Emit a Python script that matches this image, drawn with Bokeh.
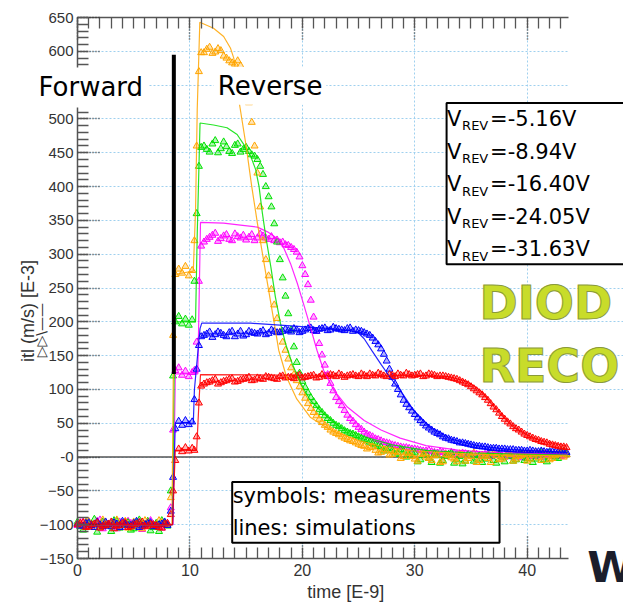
from math import pi
from bokeh.plotting import figure
from bokeh.models import Range1d, LinearAxis, SingleIntervalTicker, Label, BoxAnnotation, Grid
from bokeh.embed import file_html
from bokeh.resources import INLINE

# ---------------- data ----------------
t_meas = [0.0, 0.5, 1.0, 1.5, 2.0, 2.5, 3.0, 3.5, 4.0, 4.5, 5.0, 5.5, 6.0, 6.5, 7.0, 7.5, 8.0,
          8.3, 8.5, 8.7, 9.0, 9.3, 9.6, 9.9, 10.2, 10.4, 10.6, 10.8, 11.0,
          11.5, 12.0, 12.5, 13.0, 13.5, 14.0, 14.5, 15.0, 15.5, 16.0, 16.5, 17.0, 17.5, 18.0, 18.5,
          19.0, 19.5, 20.0, 20.5, 21.0, 21.5, 22.0, 22.5, 23.0, 23.5, 24.0, 24.5, 25.0, 25.5, 26.0,
          26.5, 27.0, 27.5, 28.0, 28.5, 29.0, 29.5, 30.0, 30.5, 31.0, 31.5, 32.0, 32.5, 33.0, 33.5,
          34.0, 34.5, 35.0, 35.5, 36.0, 36.5, 37.0, 37.5, 38.0, 38.5, 39.0, 39.5, 40.0, 40.5, 41.0,
          41.5, 42.0, 42.5, 43.0, 43.5]

meas_orange = [-98, -103, -95, -100, -104, -97, -101, -93, -99, -105, -96, -102, -94, -100, -103, -97, -100,
               -60, 180, 270, 278, 272, 282, 268, 276, 320, 460, 570, 598,
               603, 597, 604, 593, 586, 581, 579,
               540, 495, 420, 320, 268, 225, 185, 158, 132, 113,
               95, 79, 66, 56, 47, 40, 35, 30, 26, 23,
               19, 16, 14, 10, 7, 9, 4, 7, 1, 5,
               -3, 4, 0, -5, 3, -7, 2, -3, 5, -6,
               1, -8, 3, -2, 5, -4, 0, 4, -3, 2,
               -6, 3, -1, 5, -4, 2, 6, 3]
meas_green = [-96, -108, -99, -92, -104, -100, -110, -95, -101, -97, -106, -93, -100, -109, -98, -94, -102,
              -50, 120, 200, 208, 197, 204, 195, 203, 260, 360, 430, 458,
              455, 463, 450, 466, 452, 461, 451,
              458, 447, 440, 418, 385, 345, 292, 238, 188, 140,
              112, 95, 82, 70, 61, 54, 47, 42, 37, 34,
              30, 26, 22, 18, 15, 12, 10, 6, 9, 3,
              6, -4, 5, -8, 2, -5, 4, -9, 1, -6,
              3, -3, -8, 2, -5, 4, -7, 1, -4, 5,
              -2, -8, 3, -4, 6, 0, 8, 4]
meas_magenta = [-101, -96, -104, -99, -93, -102, -98, -106, -100, -95, -103, -97, -101, -94, -99, -105, -98,
                -75, 40, 128, 132, 121, 127, 119, 125, 128, 170, 260, 312,
                322, 328, 319, 327, 322, 330, 324,
                321, 329, 324, 327, 322, 320, 317, 314, 310, 303,
                283, 255, 207, 168, 136, 109, 88, 76, 62, 53,
                44, 37, 32, 27, 24, 21, 18, 16, 14, 13,
                12, 10, 9, 8, 6, 7, 4, 6, 3, 5,
                2, 4, 1, 5, 2, 3, 0, 4, 2, -1,
                3, 1, 4, 0, 2, 3, 1, 4]
meas_blue = [-99, -102, -97, -104, -100, -96, -103, -99, -95, -101, -98, -104, -100, -97, -102, -99, -101,
             -80, -30, 42, 53, 47, 54, 48, 52, 85, 130, 165, 178,
             182, 177, 185, 180, 184, 178, 186,
             181, 184, 182, 187, 183, 186, 184, 189, 185, 188,
             186, 190, 187, 189, 191, 188, 190, 188, 190, 186,
             187, 184, 180, 171, 160, 142, 118, 100, 84, 73,
             63, 54, 46, 40, 35, 30, 27, 24, 21, 20,
             18, 16, 15, 14, 13, 12, 12, 11, 10, 10,
             9, 9, 8, 8, 8, 7, 7, 7]
meas_red = [-100, -97, -103, -99, -105, -101, -96, -102, -98, -104, -100, -97, -103, -99, -101, -105, -98,
            -85, -50, -5, 12, 8, 14, 9, 13, 10, 30, 80, 105,
            110, 113, 108, 112, 115, 111, 114,
            116, 113, 117, 115, 118, 116, 119, 117, 118, 120,
            117, 119, 121, 118, 120, 122, 119, 121, 120, 122,
            119, 121, 123, 120, 122, 119, 121, 123, 120, 122,
            121, 123, 120, 122, 119, 120, 118, 116, 113, 109,
            104, 98, 92, 84, 74, 65, 56, 49, 42, 37,
            32, 28, 25, 22, 19, 17, 15, 14]

# second (interleaved) set of measured samples
t_meas_mid = [0.25, 0.75, 1.25, 1.75, 2.25, 2.75, 3.25, 3.75, 4.25, 4.75, 5.25, 5.75, 6.25, 6.75, 7.25, 7.75,
              11.25, 11.75, 12.25, 12.75, 13.25, 13.75, 14.25,
              14.75, 15.25, 15.75, 16.25, 16.75, 17.25, 17.75, 18.25, 18.75, 19.25,
              19.75, 20.25, 20.75, 21.25, 21.75, 22.25, 22.75, 23.25, 23.75, 24.25,
              24.75, 25.25, 25.75, 26.25, 26.75, 27.25, 27.75, 28.25, 28.75, 29.25,
              29.75, 30.25, 30.75, 31.25, 31.75, 32.25, 32.75, 33.25, 33.75, 34.25,
              34.75, 35.25, 35.75, 36.25, 36.75, 37.25, 37.75, 38.25, 38.75, 39.25,
              39.75, 40.25, 40.75, 41.25, 41.75, 42.25, 42.75, 43.25]
mid_orange = [-101, -96, -104, -99, -93, -102, -98, -100, -95, -103, -99, -106, -97, -101, -94, -99,
              598, 606, 599, 601, 590, 583, 586,
              572, 524, 460, 370, 292, 248, 205, 170, 145, 122,
              104, 87, 72, 61, 51, 44, 37, 33, 28, 24,
              21, 17, 12, 15, 6, 11, 3, 8, -2, 6,
              1, -6, 5, -2, 2, -8, 4, -1, -7, 3,
              -2, 6, -5, 1, -8, 2, -3, 6, -6, 1,
              4, -3, 7, -5, 2, -2, 4, 0]
mid_green = [-103, -97, -100, -111, -96, -102, -94, -105, -99, -108, -97, -101, -95, -104, -110, -98,
             460, 451, 468, 456, 459, 449, 463,
             455, 452, 445, 430, 400, 370, 318, 265, 212, 163,
             124, 103, 88, 76, 66, 57, 50, 45, 39, 35,
             32, 28, 24, 20, 16, 9, 13, 4, 11, 0,
             7, -7, 3, -2, 5, -9, 1, 6, -4, -10,
             4, -6, 2, -3, 7, -9, 0, 5, -6, 2,
             -5, 4, -3, 7, -7, 3, -2, 9]
mid_magenta = [-97, -103, -100, -95, -106, -99, -102, -96, -104, -98, -101, -107, -96, -100, -103, -97,
               318, 325, 331, 323, 329, 320, 326,
               328, 325, 320, 330, 324, 326, 321, 318, 313, 307,
               296, 270, 232, 186, 151, 122, 98, 82, 69, 57,
               48, 41, 34, 30, 26, 22, 20, 17, 15, 14,
               12, 11, 9, 10, 7, 8, 5, 7, 4, 6,
               3, 5, 2, 4, 1, 5, 2, 3, 0, 4,
               2, 5, 1, 3, 4, 1, 3, 2]
mid_blue = [-102, -98, -101, -96, -103, -100, -97, -104, -99, -101, -95, -102, -98, -103, -100, -96,
            180, 185, 181, 183, 178, 186, 182,
            179, 186, 183, 185, 181, 188, 184, 186, 187, 190,
            184, 188, 191, 186, 190, 187, 192, 189, 187, 191,
            188, 186, 182, 176, 166, 152, 130, 108, 92, 78,
            68, 58, 50, 43, 37, 33, 28, 25, 23, 21,
            19, 17, 16, 15, 13, 13, 12, 11, 11, 10,
            9, 10, 8, 9, 7, 8, 7, 6]
mid_red = [-98, -104, -100, -97, -102, -99, -106, -101, -97, -103, -99, -96, -102, -100, -104, -99,
           108, 111, 115, 110, 113, 116, 112,
           115, 118, 114, 116, 119, 117, 115, 120, 118, 116,
           121, 118, 120, 117, 122, 119, 121, 123, 118, 121,
           120, 123, 119, 121, 124, 120, 122, 119, 121, 124,
           120, 122, 119, 123, 121, 120, 119, 117, 115, 111,
           107, 101, 95, 88, 79, 70, 60, 52, 45, 40,
           34, 30, 26, 23, 21, 18, 16, 15]

sim_t_orange = [0, 8.4, 8.6, 10.3, 10.5, 10.65, 10.88, 12.1, 13.0, 13.6, 13.9, 14.35, 15.0, 15.5, 16.0,
                16.5, 17.0, 17.5, 17.9, 18.6, 19.5, 20.7, 22.5, 24.9, 27.0, 30.0, 34.0, 38.0, 43.6]
sim_orange = [-100, -100, 270, 275, 365, 514, 643, 634, 622, 605, 590, 528, 460, 400, 346,
              296, 247, 198, 158, 118, 86, 59, 40, 25, 16, 9, 5, 3, 2]
sim_t_green = [0, 8.45, 8.65, 10.5, 10.65, 10.9, 12.1, 13.3, 14.2, 14.8, 15.4, 15.85, 16.15, 16.45, 16.75,
               17.2, 17.6, 18.05, 18.5, 19.1, 19.85, 20.7, 21.9, 23.4, 25.5, 28.0, 31.0, 35.0, 43.6]
sim_green = [-100, -100, 200, 200, 330, 494, 491, 487, 477, 462, 445, 425, 400, 360, 326,
             281, 237, 198, 168, 138, 109, 84, 64, 44, 30, 18, 10, 6, 3]
sim_t_magenta = [0, 8.5, 8.7, 10.7, 10.94, 13.0, 14.5, 16.0, 16.9, 17.8, 18.35, 18.95, 19.55, 20.1, 20.7,
                 21.3, 21.9, 22.8, 24.0, 25.5, 27.0, 28.7, 31.0, 34.0, 38.0, 43.6]
sim_magenta = [-100, -100, 123, 123, 347, 346, 343, 340, 333, 323, 309, 286, 257, 227, 193,
               158, 128, 99, 74, 54, 40, 28, 17, 10, 6, 4]
sim_t_blue = [0, 8.45, 8.7, 10.3, 10.4, 10.9, 11.05, 15.4, 19.0, 22.5, 24.9, 25.5, 26.2, 27.0, 27.8,
              28.7, 29.9, 31.4, 33.2, 35.6, 38.5, 43.6]
sim_blue = [-100, -100, 50, 50, 100, 190, 198, 198, 194, 190, 185, 175, 157, 137, 118,
            99, 69, 44, 27, 17, 11, 7]
sim_t_red = [0, 8.45, 8.7, 10.6, 10.8, 10.94, 20.0, 30.0, 33.0, 34.4, 35.3, 36.0, 36.7, 37.6, 38.8,
             40.3, 41.8, 43.6]
sim_red = [-100, -100, 10, 10, 80, 122, 121, 121, 119, 113, 105, 96, 81, 64, 44,
           30, 22, 16]

vrev_values = ["-5.16", "-8.94", "-16.40", "-24.05", "-31.63"]
x_ticks_major = 10
y_ticks_major = 50

# divider bar between forward / reverse phases
divider_t = [8.57]
divider_lo = [123]
divider_hi = [595]

# ---------------- figure ----------------
# the frame covers the whole canvas; axes are pinned with fixed_location
X_END = 43.67          # end of the plotted time axis
X_VIEW = 48.566
Y_MIN, Y_MAX = -150, 650
p = figure(width=623, height=602, output_backend="svg", toolbar_location=None,
           x_range=Range1d(-6.849, X_VIEW), y_range=Range1d(-215.06, 675.14),
           x_axis_type=None, y_axis_type=None,
           min_border_left=0, min_border_right=0, min_border_top=0, min_border_bottom=0)
p.outline_line_color = None
p.background_fill_color = "white"
p.border_fill_color = "white"

xt = SingleIntervalTicker(interval=x_ticks_major, num_minor_ticks=10)
yt = SingleIntervalTicker(interval=y_ticks_major, num_minor_ticks=5)

GRID_C = "#9fd0ef"
def grid(dim, bounds, cross):
    p.add_layout(Grid(dimension=dim, ticker=(xt if dim == 0 else yt), bounds=bounds, cross_bounds=cross,
                      grid_line_color=GRID_C, grid_line_dash="2 2", grid_line_width=1))
grid(0, (0, X_END), (Y_MIN, Y_MAX))
grid(1, (Y_MIN, 50), (0, X_END))
grid(1, (100, 250), (0, X_VIEW))
grid(1, (300, Y_MAX), (0, X_END))

def style_axis(ax):
    ax.axis_line_color = "#555555"
    ax.axis_line_width = 1.5
    ax.major_tick_in = 22
    ax.major_tick_out = 0
    ax.major_tick_line_color = "#333333"
    ax.major_tick_line_dash = "1 2"
    ax.major_tick_line_width = 1.5
    ax.minor_tick_in = 11
    ax.minor_tick_out = 0
    ax.minor_tick_line_color = "#555555"
    ax.minor_tick_line_width = 1.3
    ax.major_label_text_color = "#333333"
    ax.major_label_text_font = "Liberation Sans"

bottom = LinearAxis(ticker=xt, bounds=(0, X_END), fixed_location=Y_MIN)
style_axis(bottom)
bottom.major_label_text_font_size = "16px"
bottom.major_label_standoff = 5
p.add_layout(bottom, "below")

top = LinearAxis(ticker=xt, bounds=(0, X_END), fixed_location=Y_MAX)
style_axis(top)
top.major_label_text_font_size = "10px"
top.major_label_standoff = 0
top.major_label_overrides = {0: "", 10: "", 20: "", 30: "", 40: ""}
p.add_layout(top, "above")

left = LinearAxis(ticker=yt, bounds=(Y_MIN, Y_MAX), fixed_location=0)
style_axis(left)
left.major_label_text_font_size = "15px"
left.major_label_standoff = 4
left.major_label_overrides = {0: "-0"}
p.add_layout(left, "left")

# zero line
p.line(x=[0, X_END], y=[0, 0], line_color="#555555", line_width=1.5)

series = [
    ("#ff00ff", meas_magenta, mid_magenta, sim_t_magenta, sim_magenta),
    ("#00e000", meas_green, mid_green, sim_t_green, sim_green),
    ("#ffa500", meas_orange, mid_orange, sim_t_orange, sim_orange),
    ("#0000ff", meas_blue, mid_blue, sim_t_blue, sim_blue),
    ("#ff0000", meas_red, mid_red, sim_t_red, sim_red),
]
for color, meas, mid, st, sv in series:
    p.scatter(x=t_meas + t_meas_mid, y=meas + mid, marker="triangle", size=7, line_color=color,
              fill_color=color, fill_alpha=0.3, line_width=1)
for color, meas, mid, st, sv in series:
    p.line(x=st, y=sv, line_color=color, line_width=1.2, line_alpha=0.85)

p.segment(x0=divider_t, y0=divider_lo, x1=divider_t, y1=divider_hi, line_color="black", line_width=4)

# ---------------- annotations ----------------
p.add_layout(BoxAnnotation(left=32.83, right=60, top=523.6, bottom=285.0, fill_color="white",
                           fill_alpha=1, line_color="black", line_width=2, line_alpha=1))
p.add_layout(BoxAnnotation(left=13.76, right=37.54, top=-37.0, bottom=-126.8, fill_color="white",
                           fill_alpha=1, line_color="black", line_width=2, line_alpha=1))

def lab(x, y, text, size, font="DejaVu Sans", color="black", **kw):
    l = Label(x=x, y=y, text=text, text_font=font, text_font_size=f"{size}px",
              text_color=color, text_baseline=kw.pop("text_baseline", "alphabetic"), **kw)
    p.add_layout(l)
    return l

lab(-3.91, 546.6, "Forward", 26, background_fill_color="white", padding=5)
lab(12.13, 549.2, "Reverse", 26, background_fill_color="white", padding=4)

for i, v in enumerate(vrev_values):
    yb = 499.6 - i * 48.15
    lab(32.87, yb, "V", 21)
    lab(34.21, yb - 10.0, "REV", 13)
    lab(36.7, yb, "=" + v + "V", 21)

lab(13.8, -58.3, "symbols: measurements", 21)
lab(13.8, -105.3, "lines: simulations", 21)

lab(35.76, 228.0, "DIOD", 46, color="#c8dc2a", text_font_style="bold", text_outline_color="#8a9a3a")
lab(35.76, 134.3, "RECO", 46, color="#c8dc2a", text_font_style="bold", text_outline_color="#8a9a3a")
lab(45.35, -163.3, "W", 43, color="#1b1e2c", text_font_style="bold")

lab(-4.36, 219.6, "itl (m/s)  [E-3]", 18, font="Liberation Sans", color="#333333",
    angle=pi / 2, text_align="center", text_baseline="middle")
lab(-3.29, 187.7, "\u25b7\u25b7\\\u2014\u2014", 14, color="#333333",
    angle=pi / 2, text_align="center", text_baseline="middle")
lab(20.44, -199.2, "time  [E-9]", 18, font="Liberation Sans", color="#333333")

open("out.html", "w").write(file_html(p, INLINE))
